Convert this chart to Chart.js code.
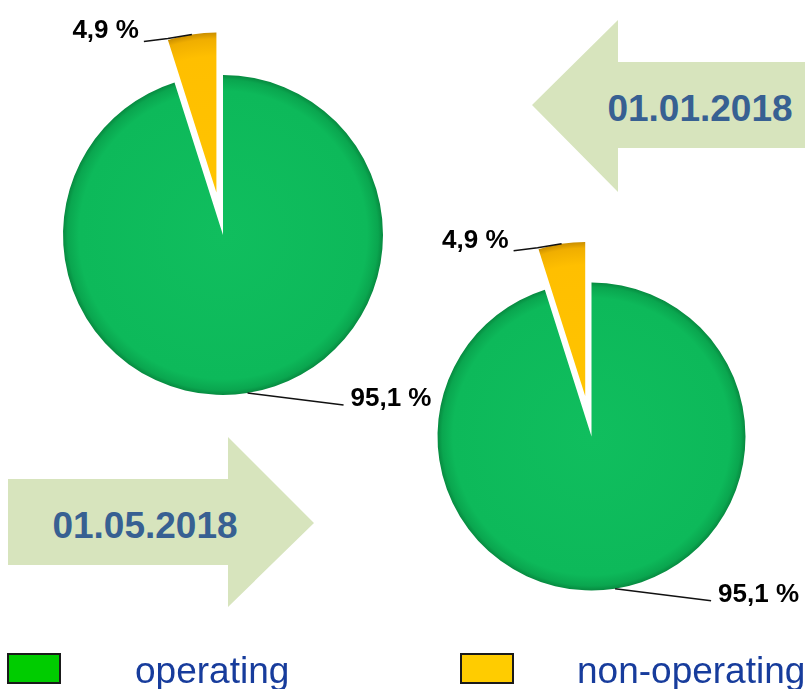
<!DOCTYPE html>
<html>
<head>
<meta charset="utf-8">
<script src="https://cdn.jsdelivr.net/npm/chart.js@4/dist/chart.umd.min.js"></script>
<style>
    body { margin: 0; background: #fff; }
    #page { position: relative; width: 805px; height: 689px; overflow: hidden; font-family: "Liberation Sans", Arial, sans-serif; }
    #page canvas { position: absolute; left: 0; top: 0; }
    .arrow { position: absolute; background: #d7e4bd; }
    .arrow span { position: absolute; width: 300px; margin-left: -150px; text-align: center; font-size: 37px; line-height: 37px; height: 37px; margin-top: -18.5px; font-weight: bold; color: #376092; }
    .swatch { position: absolute; box-sizing: border-box; border: 2px solid #1a1a1a; }
    .legend-text { position: absolute; font-size: 37px; line-height: 37px; color: #173c9c; white-space: nowrap; }
</style>
</head>
<body>
<div id="page">
    <div class="arrow" id="arrow-jan" style="left:532px; top:20px; width:273px; height:172px; clip-path: polygon(0 85px, 86px 0, 86px 42px, 273px 42px, 273px 128px, 86px 128px, 86px 172px);">
        <span style="left:168px; top:88px;"></span>
    </div>
    <div class="arrow" id="arrow-may" style="left:8px; top:437px; width:306px; height:170px; clip-path: polygon(0 42px, 220px 42px, 220px 0, 306px 86px, 220px 170px, 220px 128px, 0 128px);">
        <span style="left:137px; top:88px;"></span>
    </div>
    <canvas id="pie-jan" width="805" height="689"></canvas>
    <canvas id="pie-may" width="805" height="689"></canvas>
    <div id="legend"></div>
</div>
<script>
const categories = ['operating', 'non-operating'];
const dates = ['01.01.2018', '01.05.2018'];
const sharesJan = [95.1, 4.9];
const sharesMay = [95.1, 4.9];

const legendColors = ['#00cc00', '#ffcc00'];
// radial fills, a bit darker at the rim like the bevel in the original
const sliceStops = [
    [[0, '#10be5e'], [0.9, '#0db95a'], [0.97, '#0aa64f'], [1, '#078a40']],
    [[0, '#ffc400'], [0.85, '#ffbf00'], [0.96, '#f0ae00'], [1, '#c98e00']]
];

// leader lines, relative to the outer middle of each slice
const leaders = [
    { path: [[96, 12]], text: [7, 1], align: 'left' },
    { path: [[-24, 4], [-48, 7]], text: [-5, -3], align: 'right' }
];

function sliceFill(ctx) {
    const area = ctx.chart.chartArea;
    const stops = sliceStops[ctx.dataIndex];
    if (!area) return stops[0][1];
    const cx = (area.left + area.right) / 2;
    const cy = (area.top + area.bottom) / 2;
    const r = Math.min(area.right - area.left, area.bottom - area.top) / 2;
    const g = ctx.chart.ctx.createRadialGradient(cx, cy, 0, cx, cy, r);
    stops.forEach(s => g.addColorStop(s[0], s[1]));
    return g;
}

function formatShare(v) {
    return v.toFixed(1).replace('.', ',') + ' %';
}

// pulls slices out of the pie and draws the percentage labels
const explodePlugin = {
    id: 'explode',
    beforeDatasetDraw(chart, args, opts) {
        const ctx = chart.ctx;
        args.meta.data.forEach((arc, i) => {
            const d = opts.distances[i] || 0;
            const mid = (arc.startAngle + arc.endAngle) / 2;
            ctx.save();
            ctx.translate(Math.cos(mid) * d, Math.sin(mid) * d);
            arc.draw(ctx);
            ctx.restore();
        });
        return false;
    },
    afterDatasetsDraw(chart, args, opts) {
        const ctx = chart.ctx;
        const values = chart.data.datasets[0].data;
        chart.getDatasetMeta(0).data.forEach((arc, i) => {
            const d = opts.distances[i] || 0;
            const mid = (arc.startAngle + arc.endAngle) / 2;
            const ax = arc.x + Math.cos(mid) * (d + arc.outerRadius);
            const ay = arc.y + Math.sin(mid) * (d + arc.outerRadius);
            const leader = leaders[i];
            ctx.save();
            ctx.strokeStyle = '#111';
            ctx.lineWidth = 1.5;
            ctx.beginPath();
            ctx.moveTo(ax, ay);
            leader.path.forEach(p => ctx.lineTo(ax + p[0], ay + p[1]));
            ctx.stroke();
            const last = leader.path[leader.path.length - 1];
            ctx.fillStyle = '#000';
            ctx.font = 'bold 26px "Liberation Sans", Arial, sans-serif';
            ctx.textAlign = leader.align;
            ctx.textBaseline = 'alphabetic';
            ctx.fillText(formatShare(values[i]), ax + last[0] + leader.text[0], ay + last[1] + leader.text[1]);
            ctx.restore();
        });
    }
};

function makePie(canvasId, values, radius, padding, distances) {
    const ctx = document.getElementById(canvasId).getContext('2d');
    return new Chart(ctx, {
        type: 'pie',
        data: {
            labels: categories,
            datasets: [{
                data: values,
                backgroundColor: sliceFill,
                borderWidth: 0,
                hoverBorderWidth: 0,
                offset: 0,
                hoverOffset: 0
            }]
        },
        options: {
            responsive: false,
            animation: false,
            events: [],
            radius: radius,
            layout: { padding: padding },
            plugins: {
                legend: { display: false },
                tooltip: { enabled: false },
                explode: { distances: distances }
            }
        },
        plugins: [explodePlugin]
    });
}

makePie('pie-jan', sharesJan, 160, { left: 63, right: 422, top: 75, bottom: 294 }, [0, 43]);
makePie('pie-may', sharesMay, 154, { left: 437.5, right: 59.5, top: 282.5, bottom: 98.5 }, [0, 41]);

document.querySelector('#arrow-jan span').textContent = dates[0];
document.querySelector('#arrow-may span').textContent = dates[1];

// legend below the pies
const legend = document.getElementById('legend');
const legendSpots = [{ box: 7, text: 135 }, { box: 460, text: 577 }];
categories.forEach((name, i) => {
    const box = document.createElement('div');
    box.className = 'swatch';
    box.style.cssText = `left:${legendSpots[i].box}px; top:653px; width:54px; height:31px; background:${legendColors[i]};`;
    legend.appendChild(box);
    const label = document.createElement('div');
    label.className = 'legend-text';
    label.style.cssText = `left:${legendSpots[i].text}px; top:652px;`;
    label.textContent = name;
    legend.appendChild(label);
});
</script>
</body>
</html>
